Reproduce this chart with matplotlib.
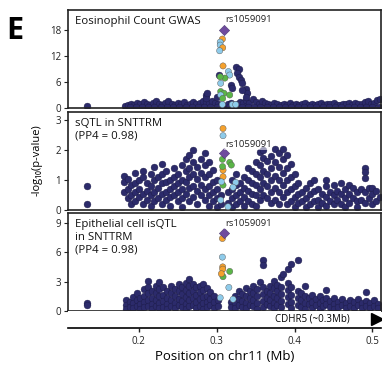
import matplotlib
matplotlib.use("Agg")
import matplotlib.pyplot as plt

plt.rcParams['font.family'] = ['Open Sans', 'DejaVu Sans']

NAVY = '#2c2b6b'
LD_COLORS = {'o': '#f5a12d', 'b': '#8ecbea', 'g': '#5ab547', 'p': '#6f4b9e'}

xlim = (0.109, 0.511)
lead_pos = 0.309

# ---- panel 1: eosinophil count GWAS ----
gwas_x = [0.133, 0.182, 0.186, 0.19, 0.194, 0.198, 0.202, 0.206, 0.21, 0.214, 0.218,
          0.222, 0.226, 0.23, 0.234, 0.238, 0.242, 0.246, 0.25, 0.254, 0.258, 0.262,
          0.266, 0.27, 0.274, 0.278, 0.282, 0.286, 0.29, 0.294, 0.298, 0.302, 0.306,
          0.31, 0.314, 0.318, 0.322, 0.326, 0.33, 0.334, 0.338, 0.342, 0.346, 0.35,
          0.354, 0.358, 0.362, 0.366, 0.37, 0.374, 0.378, 0.382, 0.386, 0.39, 0.394,
          0.398, 0.402, 0.406, 0.41, 0.414, 0.418, 0.422, 0.426, 0.43, 0.434, 0.438,
          0.442, 0.446, 0.45, 0.454, 0.458, 0.462, 0.466, 0.47, 0.474, 0.478, 0.482,
          0.486, 0.49, 0.494, 0.498, 0.502, 0.506, 0.51,
          0.188, 0.196, 0.204, 0.212, 0.22, 0.228, 0.236, 0.244, 0.252, 0.26, 0.268,
          0.276, 0.284, 0.292, 0.3, 0.316, 0.324, 0.332, 0.34, 0.348, 0.356, 0.364,
          0.372, 0.38, 0.388, 0.396, 0.404, 0.412, 0.42, 0.428, 0.436, 0.444, 0.452,
          0.46, 0.468, 0.476, 0.484, 0.492, 0.5, 0.508,
          0.3252, 0.3286, 0.3265, 0.3286, 0.3308, 0.3329, 0.3029, 0.318, 0.3372,
          0.3394, 0.2859, 0.2859, 0.301, 0.333, 0.337, 0.320, 0.2875]
gwas_y = [0.4, 0.5, 0.7, 0.9, 0.8, 1.1, 0.9, 1.3, 1.0, 0.7, 1.2,
          1.6, 1.0, 0.8, 1.2, 1.7, 1.0, 0.8, 1.1, 0.9, 1.3, 0.8,
          1.0, 1.3, 0.9, 1.2, 1.6, 1.4, 1.1, 1.5, 1.2, 1.0, 0.6,
          0.5, 0.9, 1.2, 0.8, 1.0, 1.3, 1.1, 1.8, 1.2, 2.1, 1.4,
          1.0, 1.6, 1.2, 1.0, 0.8, 1.1, 0.9, 0.7, 1.0, 0.8, 1.1,
          0.7, 0.9, 0.6, 0.9, 1.1, 0.8, 1.0, 0.7, 0.9, 1.2, 0.8,
          1.0, 0.9, 1.1, 0.8, 0.7, 1.0, 0.9, 1.2, 0.8, 1.1, 0.9,
          1.0, 1.3, 1.5, 1.0, 1.2, 1.8, 2.0,
          0.3, 0.3, 0.3, 0.3, 0.3, 0.3, 0.3, 0.3, 0.3, 0.3, 0.3,
          0.3, 0.3, 0.3, 0.3, 0.3, 0.3, 0.3, 0.3, 0.3, 0.3, 0.3,
          0.3, 0.3, 0.3, 0.3, 0.3, 0.3, 0.3, 0.3, 0.3, 0.3, 0.3,
          0.3, 0.3, 0.3, 0.3, 0.3, 0.3, 0.3,
          9.4, 8.9, 8.0, 7.2, 6.5, 5.7, 7.6, 5.3, 4.3,
          3.4, 3.0, 2.2, 2.6, 4.2, 2.6, 4.5, 3.4]
gwas_ld_x = [0.3073, 0.3045, 0.3045, 0.3077, 0.3038, 0.3081, 0.315, 0.3167, 0.3106,
             0.3045, 0.3051, 0.3051, 0.3094, 0.3051, 0.3167, 0.3077, 0.3073, 0.320, 0.3244]
gwas_ld_y = [15.9, 15.2, 14.5, 13.9, 13.2, 9.7, 8.4, 7.6, 6.9,
             7.2, 5.7, 3.8, 3.4, 3.0, 3.0, 2.2, 0.8, 0.8, 0.8]
gwas_ld_c = ['o', 'b', 'b', 'o', 'b', 'o', 'b', 'b', 'g',
             'g', 'b', 'g', 'g', 'b', 'g', 'g', 'b', 'b', 'b']
gwas_lead = 18.0

# ---- panel 2: sQTL in SNTTRM ----
sqtl_cols = {
    0.134: [0.8, 0.19],
    0.181: [1.15, 0.95, 0.6], 0.186: [1.05, 0.7, 0.4], 0.19: [0.85, 0.5, 0.2],
    0.195: [1.25, 0.9, 0.6, 0.3], 0.2: [1.0, 0.7, 0.45], 0.205: [1.3, 1.1, 0.55, 0.2],
    0.21: [0.9, 0.65, 0.35], 0.215: [1.2, 0.8, 0.5, 0.15], 0.22: [1.45, 1.0, 0.6, 0.3],
    0.225: [1.1, 0.75, 0.4], 0.23: [1.55, 1.2, 0.9, 0.55, 0.2], 0.235: [1.3, 0.95, 0.6, 0.35],
    0.24: [1.0, 0.7, 0.45, 0.15], 0.245: [1.4, 1.1, 0.8, 0.5], 0.25: [1.2, 0.9, 0.6, 0.3],
    0.255: [1.5, 1.0, 0.7, 0.4, 0.1], 0.26: [1.7, 1.3, 0.95, 0.55],
    0.265: [1.85, 1.4, 1.1, 0.75, 0.3], 0.27: [2.0, 1.6, 1.2, 0.8, 0.45],
    0.275: [1.45, 1.05, 0.65, 0.2], 0.28: [1.7, 1.25, 0.85, 0.5],
    0.285: [1.9, 1.5, 1.1, 0.7, 0.35], 0.29: [1.6, 1.2, 0.8, 0.5, 0.15],
    0.295: [1.35, 0.95, 0.6, 0.3], 0.3: [1.0, 0.7, 0.4, 0.1], 0.305: [0.5, 0.2],
    0.315: [0.6, 0.25], 0.32: [1.0, 0.7, 0.4, 0.1], 0.325: [1.2, 0.85, 0.5, 0.2],
    0.33: [0.9, 0.6, 0.3], 0.335: [1.1, 0.75, 0.45, 0.15], 0.34: [1.4, 1.0, 0.65, 0.3],
    0.345: [1.3, 0.9, 0.55, 0.2], 0.35: [1.6, 1.2, 0.85, 0.5, 0.15],
    0.355: [1.95, 1.5, 1.1, 0.7, 0.35], 0.36: [2.0, 1.75, 1.3, 0.9, 0.5],
    0.365: [1.65, 1.2, 0.8, 0.4], 0.37: [1.8, 1.4, 1.0, 0.6, 0.25],
    0.375: [2.05, 1.6, 1.15, 0.75, 0.35], 0.38: [1.9, 1.45, 1.0, 0.6, 0.2],
    0.385: [2.05, 1.7, 1.25, 0.85, 0.45], 0.39: [1.85, 1.4, 1.0, 0.6, 0.2],
    0.395: [1.55, 1.1, 0.7, 0.3], 0.4: [1.2, 0.8, 0.45, 0.1], 0.405: [0.9, 0.55, 0.25],
    0.41: [0.6, 0.3], 0.415: [0.75, 0.4, 0.1], 0.42: [0.9, 0.55, 0.2],
    0.425: [1.0, 0.65, 0.3], 0.43: [0.7, 0.35, 0.1], 0.435: [0.55, 0.25],
    0.44: [1.0, 0.8, 0.45, 0.15], 0.445: [0.6, 0.3], 0.45: [0.85, 0.5, 0.2],
    0.455: [0.65, 0.35], 0.46: [0.9, 0.55, 0.2], 0.465: [0.7, 0.4, 0.1],
    0.47: [0.83, 0.55, 0.25], 0.475: [0.75, 0.4], 0.48: [0.6, 0.3, 0.1],
    0.485: [0.7, 0.35], 0.49: [1.39, 1.28, 1.06, 0.6, 0.25], 0.495: [0.72, 0.4],
    0.5: [0.72, 0.55, 0.2], 0.505: [0.65, 0.3], 0.51: [0.45],
}
sqtl_ld_x = [0.3081, 0.3081, 0.3167, 0.3073, 0.3081, 0.3081, 0.3081, 0.3244,
             0.321, 0.3051, 0.3145, 0.3188, 0.306, 0.3075]
sqtl_ld_y = [2.72, 2.48, 1.59, 1.69, 1.33, 1.11, 0.83, 0.92,
             0.76, 0.33, 0.11, 1.5, 0.94, 1.45]
sqtl_ld_c = ['o', 'b', 'g', 'g', 'o', 'o', 'g', 'b',
             'b', 'b', 'b', 'g', 'b', 'g']
sqtl_lead = 1.89

# ---- panel 3: epithelial cell isQTL ----
isqtl_cols = {
    0.134: [0.85, 0.58],
    0.183: [1.1, 0.6, 0.2], 0.188: [0.9, 0.4], 0.192: [1.4, 0.8, 0.3],
    0.197: [1.8, 1.1, 0.5], 0.202: [1.3, 0.7, 0.2], 0.207: [2.2, 1.5, 0.9, 0.4],
    0.212: [3.1, 2.5, 1.8, 1.1, 0.5], 0.217: [2.0, 1.3, 0.7, 0.2],
    0.222: [2.6, 1.8, 1.1, 0.5], 0.226: [2.95, 2.2, 1.5, 0.8, 0.3],
    0.231: [2.4, 1.6, 1.0, 0.4], 0.236: [2.0, 1.3, 0.7, 0.2],
    0.241: [2.6, 1.8, 1.1, 0.5], 0.246: [2.2, 1.5, 0.8, 0.3],
    0.251: [2.8, 2.0, 1.2, 0.6], 0.256: [2.4, 1.7, 1.0, 0.4],
    0.26: [2.9, 2.1, 1.4, 0.7, 0.2], 0.264: [3.3, 2.6, 1.8, 1.1, 0.5],
    0.269: [2.8, 2.0, 1.3, 0.6], 0.273: [2.4, 1.6, 0.9, 0.3],
    0.278: [2.6, 1.9, 1.2, 0.5], 0.282: [2.8, 2.1, 1.4, 0.8, 0.2],
    0.287: [2.3, 1.5, 0.9, 0.4], 0.292: [1.9, 1.2, 0.6], 0.297: [1.5, 0.9, 0.3],
    0.302: [1.1, 0.5], 0.318: [0.9, 0.4], 0.323: [1.5, 0.8, 0.3],
    0.328: [2.0, 1.2, 0.6], 0.333: [1.7, 1.0, 0.4], 0.338: [2.3, 1.5, 0.8, 0.3],
    0.343: [2.0, 1.3, 0.6], 0.347: [2.6, 1.8, 1.1, 0.5], 0.352: [2.2, 1.5, 0.8, 0.2],
    0.355: [2.95], 0.359: [5.16, 4.65, 2.4, 1.7, 1.0, 0.4], 0.364: [2.0, 1.3, 0.7],
    0.369: [2.6, 1.8, 1.1, 0.5], 0.374: [3.1, 2.3, 1.5, 0.8, 0.3],
    0.378: [2.7, 2.0, 1.3, 0.6], 0.383: [3.46, 2.5, 1.7, 1.0, 0.4], 0.385: [3.8],
    0.391: [4.3, 2.9, 2.1, 1.4, 0.7], 0.396: [4.8, 2.4, 1.6, 0.9, 0.3],
    0.404: [5.16, 2.0, 1.3, 0.6], 0.408: [1.8, 1.1, 0.4], 0.413: [2.6, 1.5, 0.8, 0.2],
    0.418: [1.3, 0.7], 0.423: [1.6, 0.9, 0.3], 0.428: [1.2, 0.6],
    0.433: [1.5, 0.8, 0.2], 0.437: [1.1, 0.5], 0.441: [2.1, 1.3, 0.7],
    0.446: [1.0, 0.4], 0.451: [1.3, 0.7, 0.2], 0.456: [0.9, 0.4], 0.461: [1.2, 0.6],
    0.466: [0.8, 0.3], 0.471: [1.1, 0.5], 0.476: [0.9, 0.3], 0.481: [1.2, 0.6],
    0.486: [0.8, 0.3], 0.492: [1.93, 1.0, 0.5], 0.497: [0.8, 0.3],
    0.502: [1.1, 0.5], 0.507: [0.7, 0.3],
}
isqtl_ld_x = [0.3073, 0.3073, 0.3077, 0.3077, 0.3167, 0.3081, 0.3156, 0.3045, 0.321, 0.306]
isqtl_ld_y = [7.4, 5.5, 4.5, 4.27, 4.04, 3.5, 2.4, 1.35, 1.2, 3.8]
isqtl_ld_c = ['o', 'b', 'o', 'o', 'g', 'g', 'b', 'b', 'b', 'o']
isqtl_lead = 7.97


def flatten(cols):
    xs, ys = [], []
    for x, vals in cols.items():
        for v in vals:
            xs.append(x)
            ys.append(v)
    return xs, ys


sqtl_x, sqtl_y = flatten(sqtl_cols)
isqtl_x, isqtl_y = flatten(isqtl_cols)

panels = [
    (gwas_x, gwas_y, gwas_ld_x, gwas_ld_y, gwas_ld_c, gwas_lead, 22.6, [0, 6, 12, 18],
     "Eosinophil Count GWAS", 20.3),
    (sqtl_x, sqtl_y, sqtl_ld_x, sqtl_ld_y, sqtl_ld_c, sqtl_lead, 3.27, [0, 1, 2, 3],
     "sQTL in SNTTRM\n(PP4 = 0.98)", 2.17),
    (isqtl_x, isqtl_y, isqtl_ld_x, isqtl_ld_y, isqtl_ld_c, isqtl_lead, 10.0, [0, 3, 6, 9],
     "Epithelial cell isQTL\nin SNTTRM\n(PP4 = 0.98)", 8.9),
]

fig = plt.figure(figsize=(3.82, 3.65), dpi=100)
W, H = 382, 365
tops = [10, 112, 213]
bots = [108, 210, 311]
left, right = 68, 381

for (nx, ny, lx, ly, lc, lead, ymax, yt, title, ylab), t, b in zip(panels, tops, bots):
    ax = fig.add_axes([left / W, 1 - b / H, (right - left) / W, (b - t) / H])
    ax.scatter(nx, ny, s=24, c=NAVY, edgecolors='#1b1a45', linewidths=0.3, zorder=2)
    ax.scatter(lx, ly, s=20, c=[LD_COLORS[k] for k in lc], edgecolors='#555555',
               linewidths=0.3, zorder=3)
    ax.scatter([lead_pos], [lead], s=28, marker='D', c=LD_COLORS['p'],
               edgecolors='#3a2a60', linewidths=0.3, zorder=4)
    ax.text(0.3105, ylab, "rs1059091", fontsize=6.8, color='#222222', va='center',
            ha='left', zorder=5,
            bbox=dict(boxstyle='square,pad=0.05', fc='white', ec='none', alpha=0.55))
    ax.text(0.022, 0.94, title, transform=ax.transAxes, fontsize=8.2, va='top',
            ha='left', linespacing=1.22, color='#111111')
    ax.set_xlim(*xlim)
    ax.set_ylim(0, ymax)
    ax.set_yticks(yt)
    ax.set_xticks([])
    ax.tick_params(axis='y', labelsize=7, length=3, width=0.8, pad=2, colors='#222222')
    for s in ax.spines.values():
        s.set_linewidth(1.2)
        s.set_color('#222222')

# gene track
gx = fig.add_axes([left / W, 1 - 328 / H, (right - left) / W, (328 - 311) / H])
gx.set_xlim(*xlim)
gx.set_ylim(0, 1)
for side in ['top', 'left', 'right']:
    gx.spines[side].set_visible(False)
gx.spines['bottom'].set_linewidth(1.2)
gx.set_yticks([])
gx.set_xticks([0.2, 0.3, 0.4, 0.5])
gx.set_xticklabels(['0.2', '0.3', '0.4', '0.5'])
gx.tick_params(axis='x', labelsize=7, length=3, width=1, pad=3, colors='#222222')
gx.text(0.471, 0.55, "CDHR5 (~0.3Mb)", fontsize=7, ha='right', va='center')
gx.plot([0.5055], [0.55], marker='>', markersize=9, color='black', clip_on=False)
gx.set_xlabel("Position on chr11 (Mb)", fontsize=9.5, labelpad=2)

fig.text(37 / W, 1 - 160 / H, "-log\u2081\u2080(p-value)", rotation=90, fontsize=8,
         ha='center', va='center')
fig.text(15 / W, 1 - 31 / H, "E", fontsize=22, fontweight='bold', ha='center',
         va='center')

fig.savefig('out.png', dpi=100)
